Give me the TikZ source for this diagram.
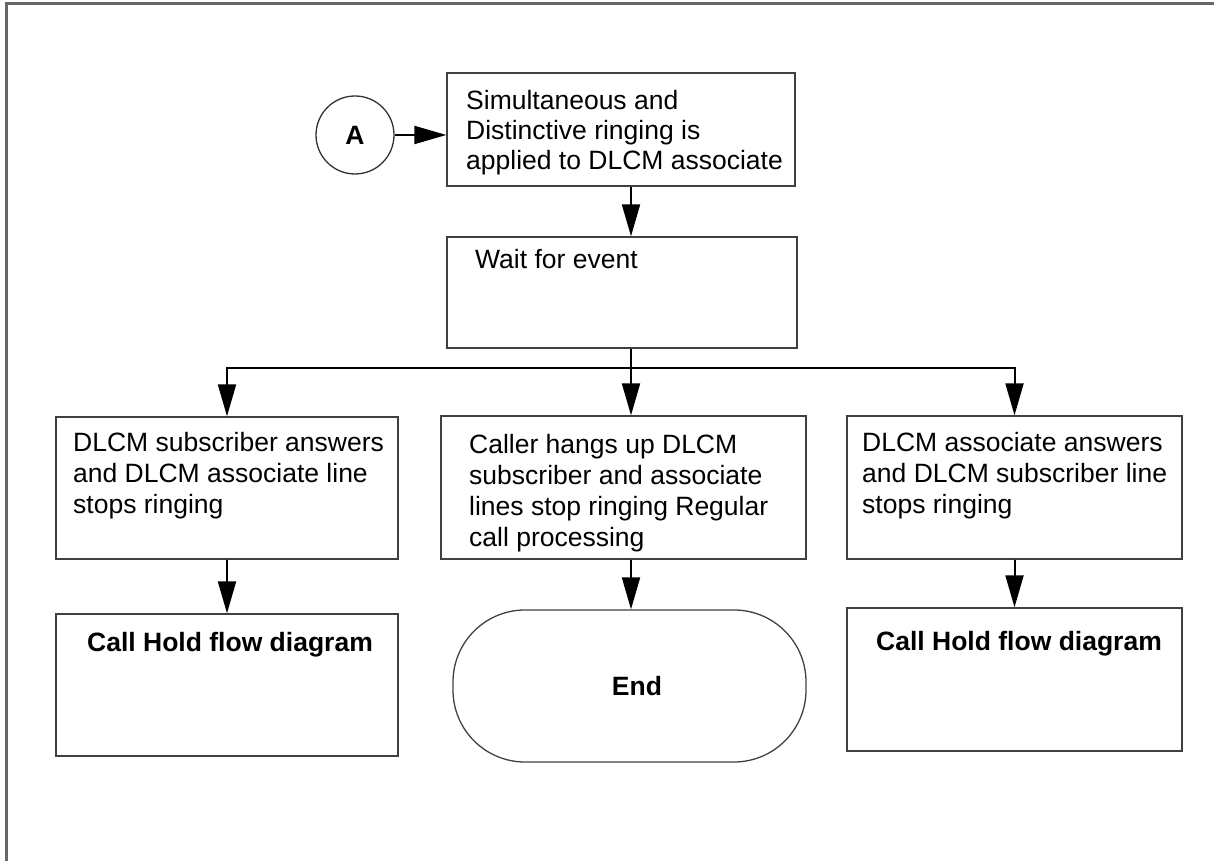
\documentclass[tikz,border=0pt]{standalone}
\usepackage{fontspec}
\setmainfont{Liberation Sans}
\usetikzlibrary{arrows.meta}

\begin{document}
\begin{tikzpicture}[x=1pt, y=1pt,
    every node/.style={font=\fontsize{26.5}{31}\selectfont},
    box/.style={draw=black!75, line width=1.3pt, rectangle, inner sep=0pt},
    txt/.style={inner sep=0pt, align=left, anchor=base west},
    arr/.style={line width=2pt, -{Triangle[length=32pt, width=18pt]}},
    frame/.style={draw=black!60, line width=3pt}]
    \useasboundingbox (0,0) rectangle (1214,861);
    \draw[frame] (1214,857) -- (6,857) -- (6,0);

    \node[draw=black!80, line width=1.3pt, circle, minimum size=78pt, inner sep=0pt, font=\fontsize{26.5}{31}\selectfont\bfseries] (A) at (355,726) {A};
    \node[box, minimum width=348pt, minimum height=113pt] (init) at (621,731.5) {};
    \node[box, minimum width=350pt, minimum height=111pt] (wait) at (622,568.5) {};
    \node[box, minimum width=342pt, minimum height=142pt] (ansSub) at (227,373) {};
    \node[box, minimum width=365pt, minimum height=143pt] (hang) at (623.5,373.5) {};
    \node[box, minimum width=335pt, minimum height=143pt] (ansAsc) at (1014.5,373.5) {};
    \node[box, minimum width=342pt, minimum height=142pt] (holdL) at (227,176) {};
    \node[box, minimum width=353pt, minimum height=152pt, rounded corners=72pt] (endT) at (629.5,175) {};
    \node[box, minimum width=335pt, minimum height=143pt] (holdR) at (1014.5,181.5) {};
    \coordinate (split) at (631,493);

    \node[txt, font=\fontsize{26.5}{30}\selectfont] (initT) at (466,691) {Simultaneous and\\Distinctive ringing is\\applied to DLCM associate};
    \node[txt] (waitT) at (475,592) {Wait for event};
    \node[txt] (ansSubT) at (73,347) {DLCM subscriber answers\\and DLCM associate line\\stops ringing};
    \node[txt] (hangT) at (469,314) {Caller hangs up DLCM\\subscriber and associate\\lines stop ringing Regular\\call processing};
    \node[txt] (ansAscT) at (862,347) {DLCM associate answers\\and DLCM subscriber line\\stops ringing};
    \node[inner sep=0pt, anchor=base, font=\fontsize{26.5}{31}\selectfont\bfseries] (holdLT) at (230,209) {Call Hold flow diagram};
    \node[inner sep=0pt, anchor=base, font=\fontsize{26.5}{31}\selectfont\bfseries] (endTT) at (637,165) {End};
    \node[inner sep=0pt, anchor=base, font=\fontsize{26.5}{31}\selectfont\bfseries] (holdRT) at (1019,210) {Call Hold flow diagram};

    \draw[arr] (A) -- (A -| init.west);
    \draw[arr] (init.south -| split) -- (wait.north -| split);
    \draw[line width=2pt] (wait.south -| split) -- (split);
    \draw[arr] (split) -- (hang.north -| split);
    \draw[arr] (split) -| (ansSub.north);
    \draw[arr] (split) -| (ansAsc.north);
    \draw[arr] (ansSub) -- (holdL);
    \draw[arr] (hang.south -| split) -- (endT.north -| split);
    \draw[arr] (ansAsc) -- (holdR);
\end{tikzpicture}
\end{document}
